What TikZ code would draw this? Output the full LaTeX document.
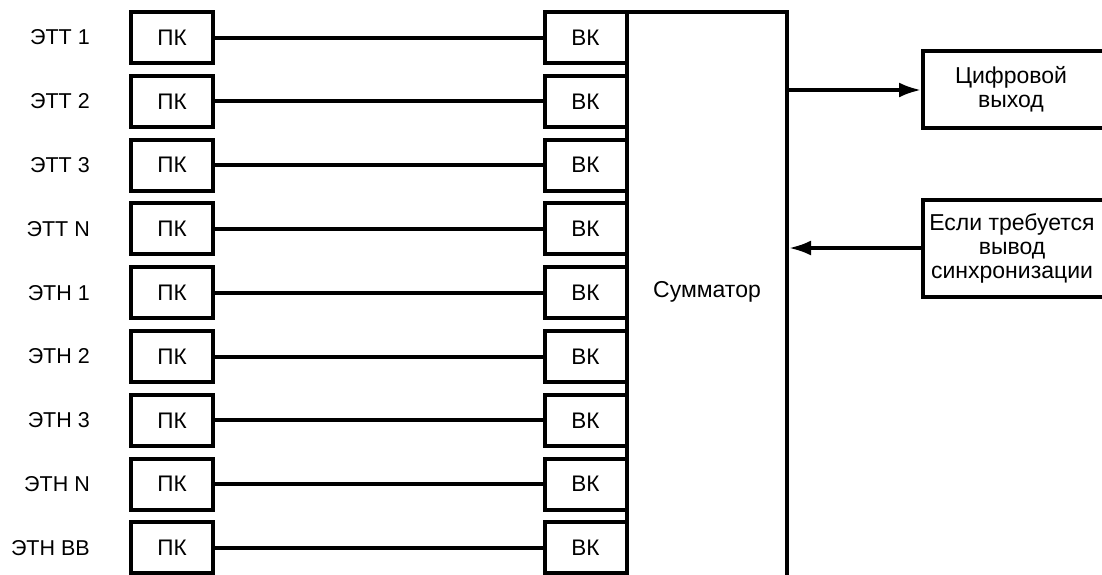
\documentclass[tikz,border=0pt]{standalone}
\usepackage{fontspec}
\setmainfont{Liberation Sans}
\usetikzlibrary{arrows.meta}
\begin{document}
\begin{tikzpicture}[x=1pt,y=-1pt,
  blk/.style={draw,line width=4pt,minimum width=82pt,minimum height=51pt,inner sep=0pt,font=\fontsize{22.5}{24}\selectfont},
  lbl/.style={anchor=east,inner sep=0pt,font=\fontsize{21.5}{24}\selectfont},
  conn/.style={line width=4pt},
  big/.style={align=center,font=\fontsize{23}{24}\selectfont},
  arr/.style={line width=3.5pt,-{Latex[length=22pt,width=15pt]}}]
\useasboundingbox (0,0) rectangle (1102,574);
\begin{scope}
\clip (0,0) rectangle (1102,574);
\foreach \lab [count=\i from 0] in {ЭТТ 1,ЭТТ 2,ЭТТ 3,ЭТТ N,ЭТН 1,ЭТН 2,ЭТН 3,ЭТН N,ЭТН BB}{
  \pgfmathsetmacro{\yy}{37.5+63.8*\i}
  \node[lbl] (l\i) at (90,\yy) {\lab};
  \node[blk] (p\i) at (172,\yy) {ПК};
  \node[blk] (v\i) at (585.5,\yy) {ВК};
  \draw[conn] (p\i.east) -- (v\i.west);
}
\draw[line width=4pt] (627,600) -- (627,12) -- (787,12) -- (787,600);
\node[big] (sum) at (707,292) {Сумматор};
\path[draw,line width=4pt] (923,51) rectangle (1120,128);
\node[big] (out) at (1011,89.5) {Цифровой\\выход};
\path[draw,line width=4pt] (923,200) rectangle (1120,297);
\node[big] (sync) at (1012,248.5) {Если требуется\\вывод\\синхронизации};
\coordinate (outL) at (921,90);
\coordinate (sumR1) at (789,90);
\coordinate (syncL) at (921,248);
\coordinate (sumR2) at (789,248);
\draw[arr] (sumR1) -- (outL);
\draw[arr] (syncL) -- (sumR2);
\end{scope}
\end{tikzpicture}
\end{document}
